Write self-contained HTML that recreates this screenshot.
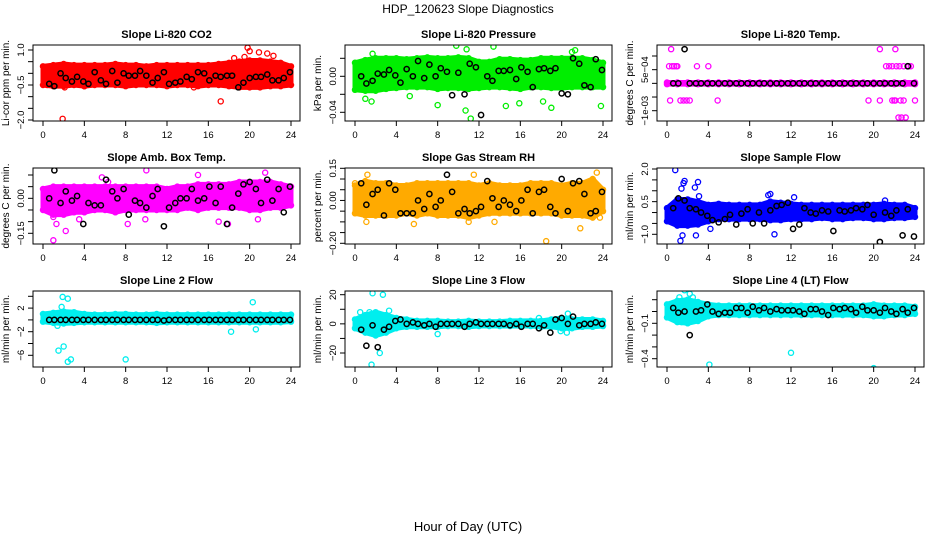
<!DOCTYPE html>
<html><head><meta charset="utf-8"><style>
html,body{margin:0;padding:0;background:#fff;}
svg{display:block;font-family:"Liberation Sans",Arial,sans-serif;}
</style></head><body>
<svg id="c" width="936" height="540" viewBox="0 0 936 540">
<text x="468" y="13" text-anchor="middle" font-size="12">HDP_120623  Slope Diagnostics</text>
<text x="468" y="531" text-anchor="middle" font-size="13">Hour of Day (UTC)</text>
</svg>
<script>
const hours=[0,1,2,3,4,5,6,7,8,9,10,11,12,13,14,15,16,17,18,19,20,21,22,23,24];
const blackHours=[0.6,1.1,1.7,2.2,2.8,3.3,3.9,4.4,5.0,5.6,6.1,6.7,7.2,7.8,8.3,8.9,9.4,10.0,10.6,11.1,11.7,12.2,12.8,13.3,13.9,14.4,15.0,15.6,16.1,16.7,17.2,17.8,18.3,18.9,19.4,20.0,20.6,21.1,21.7,22.2,22.8,23.3,23.9];
const xTicks=[0,4,8,12,16,20,24];

// CO2
const co2Lo=[-0.5,-0.55,-0.55,-0.5,-0.55,-0.5,-0.5,-0.5,-0.55,-0.5,-0.5,-0.5,-0.55,-0.5,-0.5,-0.55,-0.5,-0.5,-0.55,-0.6,-0.6,-0.6,-0.55,-0.55,-0.5];
const co2Hi=[0.3,0.35,0.4,0.35,0.35,0.35,0.35,0.4,0.35,0.35,0.3,0.35,0.35,0.35,0.35,0.35,0.35,0.4,0.45,0.5,0.55,0.55,0.5,0.45,0.3];
const co2Black=[-0.45,-0.55,0.0,-0.2,-0.35,-0.15,-0.35,-0.45,0.05,-0.3,-0.45,0.1,-0.4,0.0,-0.1,-0.1,0.1,-0.1,-0.4,-0.2,0.05,-0.45,-0.4,-0.35,-0.15,-0.25,0.05,0.0,-0.3,-0.1,-0.15,-0.1,-0.1,-0.6,-0.4,-0.2,-0.15,-0.15,-0.05,-0.3,-0.3,-0.2,0.05];
const co2OutX=[1.9,2.1,19.8,20.0,20.9,21.7,18.5,19.5,17.2,0.4,14.6,4.0,22.3];
const co2OutY=[-1.95,-0.6,1.1,0.95,0.9,0.85,0.65,0.7,-1.2,-0.5,-0.6,-0.55,0.75];
// Pressure
const presLo=[-0.015,-0.016,-0.016,-0.014,-0.013,-0.012,-0.012,-0.012,-0.014,-0.013,-0.013,-0.014,-0.013,-0.012,-0.012,-0.013,-0.014,-0.012,-0.012,-0.013,-0.013,-0.012,-0.012,-0.012,-0.012];
const presHi=[0.015,0.018,0.02,0.02,0.02,0.019,0.02,0.021,0.02,0.02,0.021,0.02,0.016,0.016,0.019,0.019,0.018,0.018,0.02,0.02,0.02,0.02,0.02,0.018,0.015];
const presBlack=[0.0,-0.008,-0.005,0.003,0.002,0.007,0.001,-0.007,0.008,0.0,0.017,-0.002,0.013,0.0,0.009,0.005,-0.021,0.004,-0.02,0.014,0.01,-0.043,0.0,-0.005,0.006,0.006,0.007,-0.003,0.01,0.005,-0.012,0.008,0.009,0.006,0.009,-0.019,-0.02,0.02,0.014,-0.01,-0.012,0.019,0.007];
const presOutX=[1.7,1.6,1.0,5.3,8.0,9.8,10.7,11.2,13.4,14.6,15.9,18.2,19.0,21.0,21.3,23.8,10.8];
const presOutY=[0.025,-0.028,-0.025,-0.022,-0.032,0.034,-0.038,-0.047,0.033,-0.033,-0.03,-0.028,-0.035,0.027,0.029,-0.033,0.03];
// Li-820 Temp
const tempLo=[-0.00003,-0.00003,-0.00003,-0.00003,-0.00003,-0.00003,-0.00003,-0.00003,-0.00003,-0.00003,-0.00003,-0.00003,-0.00003,-0.00003,-0.00003,-0.00003,-0.00003,-0.00003,-0.00003,-0.00003,-0.00003,-0.00003,-0.00003,-0.00003,-0.00003];
const tempHi=[0.00003,0.00003,0.00003,0.00003,0.00003,0.00003,0.00003,0.00003,0.00003,0.00003,0.00003,0.00003,0.00003,0.00003,0.00003,0.00003,0.00003,0.00003,0.00003,0.00003,0.00003,0.00003,0.00003,0.00003,0.00003];
const tempBlack=[0,0,0.00125,0,0,0,0,0,0,0,0,0,0,0,0,0,0,0,0,0,0,0,0,0,0,0,0,0,0,0,0,0,0,0,0,0,0,0,0,0,0,0.000625,0];
const tempOutX=[0.4,0.2,0.5,0.7,0.9,1.0,2.9,4.0,0.3,1.3,1.6,1.9,2.2,4.9,19.5,20.6,21.2,21.5,21.8,22.2,22.5,22.9,23.4,21.8,22.0,22.1,22.6,22.9,23.6,24.0,22.4,22.7,23.1,20.6,22.1];
const tempOutY=[0.00125,0.000625,0.000625,0.000625,0.000625,0.000625,0.000625,0.000625,-0.000625,-0.000625,-0.000625,-0.000625,-0.000625,-0.000625,-0.000625,-0.000625,0.000625,0.000625,0.000625,0.000625,0.000625,0.000625,0.000625,-0.000625,-0.000625,-0.000625,-0.000625,-0.000625,0.000625,-0.000625,-0.00125,-0.00125,-0.00125,0.00125,0.00125];
// Amb Box Temp
const ambLo=[-0.05,-0.07,-0.07,-0.06,-0.06,-0.05,-0.05,-0.06,-0.05,-0.05,-0.05,-0.05,-0.05,-0.05,-0.04,-0.05,-0.04,-0.04,-0.04,-0.04,-0.05,-0.05,-0.04,-0.04,-0.03];
const ambHi=[0.04,0.05,0.05,0.05,0.05,0.05,0.05,0.05,0.05,0.05,0.05,0.05,0.04,0.05,0.05,0.06,0.06,0.06,0.06,0.07,0.07,0.07,0.07,0.06,0.05];
const ambBlack=[0.0,0.12,-0.02,0.03,-0.01,0.01,-0.11,-0.02,-0.03,-0.03,0.08,0.03,0.0,0.04,-0.07,-0.01,-0.02,-0.04,0.01,0.04,-0.12,-0.04,-0.02,0.0,0.0,0.04,-0.01,0.0,0.05,-0.02,0.05,-0.11,-0.04,0.02,0.06,0.07,0.04,-0.02,0.08,-0.01,0.04,-0.06,0.05];
const ambOutX=[1.0,1.3,2.2,1.0,10.0,15.0,17.0,17.9,5.7,20.8,21.5,8.2,9.9,6.3,3.5];
const ambOutY=[-0.18,-0.11,-0.14,-0.08,0.12,0.1,-0.1,-0.11,0.09,-0.09,0.11,-0.11,-0.09,0.07,-0.09];
// Gas Stream RH
const rhLo=[-0.06,-0.07,-0.07,-0.07,-0.07,-0.06,-0.07,-0.06,-0.07,-0.07,-0.07,-0.08,-0.07,-0.06,-0.06,-0.06,-0.06,-0.06,-0.06,-0.06,-0.07,-0.07,-0.07,-0.08,-0.05];
const rhHi=[0.07,0.09,0.08,0.08,0.07,0.07,0.08,0.08,0.08,0.08,0.08,0.08,0.07,0.08,0.07,0.07,0.07,0.08,0.08,0.08,0.07,0.08,0.08,0.1,0.05];
const rhBlack=[0.08,-0.02,0.03,0.05,-0.07,0.08,0.05,-0.06,-0.06,-0.06,0.0,-0.04,0.03,-0.03,0.0,0.12,0.04,-0.06,-0.04,-0.06,-0.05,-0.03,0.09,0.01,-0.03,0.0,-0.02,-0.05,0.0,0.05,-0.06,0.04,0.05,-0.03,-0.06,0.1,-0.05,0.08,0.09,0.03,-0.06,-0.05,0.04];
const rhOutX=[1.1,1.2,5.7,11.5,11.0,13.5,18.5,21.8,23.2,23.4,23.7,0.0];
const rhOutY=[-0.1,0.12,-0.11,0.12,-0.1,-0.1,-0.19,-0.13,-0.22,0.13,-0.08,0.08];
// Sample Flow
const flowLo=[-0.4,-0.6,-0.6,-0.55,-0.4,-0.3,-0.3,-0.3,-0.3,-0.3,-0.35,-0.35,-0.3,-0.3,-0.3,-0.25,-0.3,-0.3,-0.25,-0.25,-0.3,-0.3,-0.25,-0.25,-0.2];
const flowHi=[0.2,0.6,0.6,0.5,0.35,0.4,0.35,0.35,0.35,0.35,0.5,0.45,0.4,0.35,0.35,0.35,0.35,0.35,0.35,0.35,0.35,0.4,0.35,0.35,0.2];
const flowBlack=[0.2,0.65,0.55,0.2,0.15,0.0,-0.15,-0.35,-0.45,-0.3,-0.1,-0.55,-0.05,0.15,-0.5,0.0,-0.5,0.1,0.3,0.35,0.45,-0.75,-0.55,0.2,0.0,-0.05,0.1,0.05,-0.85,0.1,0.05,0.1,0.2,0.15,0.35,-0.1,-1.35,0.0,-0.15,0.1,-1.05,0.15,-1.1];
const flowOutX=[0.8,1.4,1.6,1.7,2.7,3.0,3.1,1.5,2.8,1.3,9.8,10.0,10.4,12.3,21.1,4.2];
const flowOutY=[1.95,1.1,1.35,1.45,1.15,1.4,0.75,-1.05,-1.05,-1.3,0.8,0.85,-1.0,0.7,0.55,-0.75];
// Line 2 Flow
const l2Lo=[-0.3,-0.5,-0.6,-0.5,-0.4,-0.4,-0.4,-0.4,-0.4,-0.4,-0.4,-0.5,-0.4,-0.4,-0.4,-0.4,-0.4,-0.4,-0.4,-0.4,-0.4,-0.4,-0.4,-0.4,-0.3];
const l2Hi=[1.0,1.2,1.4,1.3,1.0,0.9,0.9,1.0,1.0,0.9,0.9,1.0,0.9,0.9,0.9,0.9,0.9,0.9,0.9,0.9,0.9,0.9,0.9,0.9,0.9];
const l2Black=[0,0,0,0,0,0,0,0,0,0,0,0,0,0,0,0,0,0,0,0,-0.1,0,0,0,0,0,0,0,0,0,0,0,0,0,0,0,0,0,0,0,0,0,0];
const l2OutX=[1.9,2.4,1.8,2.0,1.5,1.4,2.4,2.7,8.0,20.3,18.2,20.6];
const l2OutY=[3.9,3.6,2.2,-4.5,-5.2,-1.0,-7.1,-6.7,-6.7,3.0,-2.0,-1.6];
// Line 3 Flow
const l3Lo=[-3,-6,-8,-6,-3,-2,-2,-2,-2,-1.5,-1.5,-2,-1.5,-1.5,-1.5,-1.5,-1.5,-1.5,-2,-2,-3,-3,-2,-2,-1.5];
const l3Hi=[3,6,8,6,4,3,2,2,2,1.5,1.5,2,1.5,1.5,1.5,2,2,2,2,3,4,3,3,3,2];
const l3Black=[-4,-15,-1,-16,-4,-2,2,3,0,1,0,-1,0,-2,0,0,0,0,-2,0,1,0,0,0,0,0,-1,0,-2,0,0,-3,-1,-6,3,4,0,5,-1,0,0,1,0];
const l3OutX=[0.5,1.4,1.7,2.7,2.4,1.6,3.3,8.0,17.8,19.9,20.6,20.5];
const l3OutY=[8,8,21,20,-20,-28,9,-7,4,-5,7,-6];
// Line 4 Flow
const l4Lo=[-0.05,-0.09,-0.1,-0.08,-0.04,-0.03,-0.03,-0.03,-0.03,-0.03,-0.03,-0.03,-0.03,-0.03,-0.03,-0.03,-0.03,-0.03,-0.03,-0.03,-0.04,-0.04,-0.03,-0.03,-0.02];
const l4Hi=[0.06,0.09,0.1,0.08,0.06,0.05,0.05,0.05,0.05,0.05,0.05,0.05,0.05,0.05,0.05,0.05,0.05,0.05,0.05,0.05,0.06,0.05,0.05,0.05,0.04];
const l4Black=[0.03,-0.01,0.0,-0.2,0.0,0.01,0.06,0.0,-0.02,-0.01,-0.01,0.03,0.03,-0.01,0.04,0.01,0.03,0.0,0.02,0.01,0.01,0.01,0.0,-0.02,0.02,0.02,0.0,-0.03,0.03,0.02,0.03,0.02,-0.01,0.04,0.01,0.01,-0.01,0.03,0.0,-0.02,0.02,-0.01,0.03];
const l4OutX=[1.7,2.5,0.9,1.4,2.0,4.1,12.0,20.0,2.2,1.2];
const l4OutY=[0.18,0.12,-0.05,-0.09,-0.08,-0.45,-0.35,-0.48,0.15,0.12];

const NS='http://www.w3.org/2000/svg';
const svg=document.getElementById('c');
function mk(tag,attrs,parent){const e=document.createElementNS(NS,tag);for(const k in attrs)e.setAttribute(k,attrs[k]);(parent||svg).appendChild(e);return e;}

const panels=[
 {name:'co2',title:'Slope Li-820 CO2',ylab:'Li-cor ppm per min.',col:0,row:0,color:'#ff0000',v1:1.0,p1:50,v2:-2.0,p2:120,ticks:[1.0,0.5,0,-0.5,-1.0,-1.5,-2.0],labels:{'1':'1.0','-0.5':'-0.5','-2':'-2.0'},lo:co2Lo,hi:co2Hi,blk:co2Black,ox:co2OutX,oy:co2OutY},
 {name:'pressure',title:'Slope Li-820 Pressure',ylab:'kPa per min.',col:1,row:0,color:'#00ee00',v1:0.02,p1:58.3,v2:-0.04,p2:112.3,ticks:[0.02,0,-0.02,-0.04],labels:{'0':'0.00','-0.04':'-0.04'},lo:presLo,hi:presHi,blk:presBlack,ox:presOutX,oy:presOutY},
 {name:'li820-temp',title:'Slope Li-820 Temp.',ylab:'degrees C per min.',col:2,row:0,color:'#ff00ff',v1:0.001,p1:56,v2:-0.001,p2:110.7,ticks:[0.001,0.0005,0,-0.0005,-0.001],labels:{'0.0005':'5e-04','-0.001':'-1e-03'},lo:tempLo,hi:tempHi,blk:tempBlack,ox:tempOutX,oy:tempOutY},
 {name:'amb-box-temp',title:'Slope Amb. Box Temp.',ylab:'degrees C per min.',col:0,row:1,color:'#ff00ff',v1:0.10,p1:175,v2:-0.15,p2:233.3,ticks:[0.1,0.05,0,-0.05,-0.1,-0.15],labels:{'0':'0.00','-0.15':'-0.15'},lo:ambLo,hi:ambHi,blk:ambBlack,ox:ambOutX,oy:ambOutY},
 {name:'gas-stream-rh',title:'Slope Gas Stream RH',ylab:'percent per min.',col:1,row:1,color:'#ffaa00',v1:0.15,p1:168.3,v2:-0.20,p2:243.3,ticks:[0.15,0.1,0.05,0,-0.05,-0.1,-0.15,-0.2],labels:{'0.15':'0.15','0':'0.00','-0.2':'-0.20'},lo:rhLo,hi:rhHi,blk:rhBlack,ox:rhOutX,oy:rhOutY},
 {name:'sample-flow',title:'Slope Sample Flow',ylab:'ml/min per min.',col:2,row:1,color:'#0000ff',v1:2.0,p1:169,v2:-1.0,p2:234.3,ticks:[2,1.5,1,0.5,0,-0.5,-1],labels:{'2':'2.0','0.5':'0.5','-1':'-1.0'},lo:flowLo,hi:flowHi,blk:flowBlack,ox:flowOutX,oy:flowOutY},
 {name:'line2-flow',title:'Slope Line 2 Flow',ylab:'ml/min per min.',col:0,row:2,color:'#00eeee',v1:4,p1:296.3,v2:-6,p2:355.3,ticks:[4,2,0,-2,-4,-6],labels:{'2':'2','-2':'-2','-6':'-6'},lo:l2Lo,hi:l2Hi,blk:l2Black,ox:l2OutX,oy:l2OutY},
 {name:'line3-flow',title:'Slope Line 3 Flow',ylab:'ml/min per min.',col:1,row:2,color:'#00eeee',v1:20,p1:294.7,v2:-20,p2:353,ticks:[20,10,0,-10,-20],labels:{'20':'20','0':'0','-20':'-20'},lo:l3Lo,hi:l3Hi,blk:l3Black,ox:l3OutX,oy:l3OutY},
 {name:'line4-flow',title:'Slope Line 4 (LT) Flow',ylab:'ml/min per min.',col:2,row:2,color:'#00eeee',v1:0.1,p1:299.7,v2:-0.4,p2:358.7,ticks:[0.1,0,-0.1,-0.2,-0.3,-0.4],labels:{'-0.1':'-0.1','-0.4':'-0.4'},lo:l4Lo,hi:l4Hi,blk:l4Black,ox:l4OutX,oy:l4OutY}
];
const colLeft=[33,345,657], rowTop=[45,168,291], W=267, H=76;

panels.forEach(p=>{
 const L=colLeft[p.col], T=rowTop[p.row];
 const g=mk('g',{});
 
 
 const xs=v=>L+10+v*(248/24);
 const ys=v=>p.p1+(v-p.v1)*(p.p2-p.p1)/(p.v2-p.v1);
 const clip='clip-'+p.name;
 const cp=mk('clipPath',{id:clip},g); mk('rect',{x:L,y:T,width:W,height:H},cp);
 const dg=mk('g',{'clip-path':'url(#'+clip+')'},g);
 // band
 let pts=hours.map((h,i)=>xs(h)+','+ys(p.hi[i]));
 pts=pts.concat(hours.slice().reverse().map((h,j)=>{const i=hours.length-1-j;return xs(h)+','+ys(p.lo[i]);}));
 const band=mk('polygon',{points:pts.join(' '),fill:p.color,stroke:p.color,'stroke-width':5,'stroke-linejoin':'round'},dg);
 
 
 hours.forEach((h,i)=>{
  [p.lo[i],p.hi[i]].forEach(v=>{
   const c=mk('circle',{cx:xs(h),cy:ys(v),r:2.6,fill:'none',stroke:p.color,'stroke-width':1.3},dg);
   
   
  });
 });
 p.ox.forEach((x,i)=>{
  const c=mk('circle',{cx:xs(x),cy:ys(p.oy[i]),r:2.6,fill:'none',stroke:p.color,'stroke-width':1.3},dg);
  
  
 });
 blackHours.forEach((x,i)=>{
  const c=mk('circle',{cx:xs(x),cy:ys(p.blk[i]),r:2.6,fill:'none',stroke:'#000','stroke-width':1.5},dg);
  
  
 });
 const box=mk('rect',{x:L,y:T,width:W,height:H,fill:'none',stroke:'#000','stroke-width':1},g);
 
 
 const tt=mk('text',{x:L+W/2,y:T-7,'text-anchor':'middle','font-size':11,'font-weight':'bold'},g);
 tt.textContent=p.title;
 
 
 xTicks.forEach(t=>{
  mk('line',{x1:xs(t),x2:xs(t),y1:T+H,y2:T+H+5,stroke:'#000'},g);
  const lb=mk('text',{x:xs(t),y:T+H+17,'text-anchor':'middle','font-size':9.5},g);
  lb.textContent=t;
  
  
 });
 p.ticks.forEach(t=>{
  const y=ys(t);
  mk('line',{x1:L-5,x2:L,y1:y,y2:y,stroke:'#000'},g);
  const key=String(+t.toFixed(6));
  if(p.labels[key]!==undefined){
   const lb=mk('text',{x:L-9,y:y,'text-anchor':'middle','font-size':9.5,transform:'rotate(-90 '+(L-9)+' '+y+')'},g);
   lb.textContent=p.labels[key].replace('-','\u2212');
   
   
  }
 });
 const yl=mk('text',{x:L-24,y:T+H/2,'text-anchor':'middle','font-size':10,transform:'rotate(-90 '+(L-24)+' '+(T+H/2)+')'},g);
 yl.textContent=p.ylab;
 
 
});
</script>
</body></html>
